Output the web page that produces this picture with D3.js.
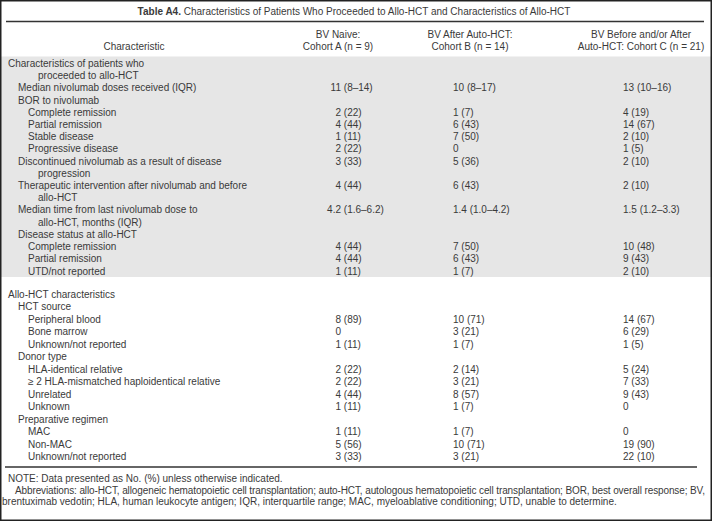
<!DOCTYPE html>
<html>
<head>
<meta charset="utf-8">
<script src="https://cdn.jsdelivr.net/npm/d3@7"></script>
<style>
  body { margin: 0; background: #fff; }
  svg text { font-family: "Liberation Sans", Arial, sans-serif; font-size: 10px; fill: #3a3a3a; }
</style>
</head>
<body>
<svg width="712" height="521"></svg>
<script>
// texts of the table
const titleBold = "Table A4.";
const titleText = " Characteristics of Patients Who Proceeded to Allo-HCT and Characteristics of Allo-HCT";
const colHeaders = [
  ["Characteristic"],
  ["BV Naive:", "Cohort A (n = 9)"],
  ["BV After Auto-HCT:", "Cohort B (n = 14)"],
  ["BV Before and/or After", "Auto-HCT: Cohort C (n = 21)"]
];

// section 1 (shaded): characteristics of patients who proceeded to allo-HCT
const patientLabels = [
  ["Characteristics of patients who", "proceeded to allo-HCT"],
  ["Median nivolumab doses received (IQR)"],
  ["BOR to nivolumab"],
  ["Complete remission"],
  ["Partial remission"],
  ["Stable disease"],
  ["Progressive disease"],
  ["Discontinued nivolumab as a result of disease", "progression"],
  ["Therapeutic intervention after nivolumab and before", "allo-HCT"],
  ["Median time from last nivolumab dose to", "allo-HCT, months (IQR)"],
  ["Disease status at allo-HCT"],
  ["Complete remission"],
  ["Partial remission"],
  ["UTD/not reported"]
];
const patientLevels = [0, 1, 1, 2, 2, 2, 2, 1, 1, 1, 1, 2, 2, 2];
const patientA = ["", "11 (8–14)", "", "2 (22)", "4 (44)", "1 (11)", "2 (22)", "3 (33)", "4 (44)", "4.2 (1.6–6.2)", "", "4 (44)", "4 (44)", "1 (11)"];
const patientB = ["", "10 (8–17)", "", "1 (7)", "6 (43)", "7 (50)", "0", "5 (36)", "6 (43)", "1.4 (1.0–4.2)", "", "7 (50)", "6 (43)", "1 (7)"];
const patientC = ["", "13 (10–16)", "", "4 (19)", "14 (67)", "2 (10)", "1 (5)", "2 (10)", "2 (10)", "1.5 (1.2–3.3)", "", "10 (48)", "9 (43)", "2 (10)"];

// section 2: allo-HCT characteristics
const hctLabels = [
  ["Allo-HCT characteristics"],
  ["HCT source"],
  ["Peripheral blood"],
  ["Bone marrow"],
  ["Unknown/not reported"],
  ["Donor type"],
  ["HLA-identical relative"],
  ["≥ 2 HLA-mismatched haploidentical relative"],
  ["Unrelated"],
  ["Unknown"],
  ["Preparative regimen"],
  ["MAC"],
  ["Non-MAC"],
  ["Unknown/not reported"]
];
const hctLevels = [0, 1, 2, 2, 2, 1, 2, 2, 2, 2, 1, 2, 2, 2];
const hctA = ["", "", "8 (89)", "0", "1 (11)", "", "2 (22)", "2 (22)", "4 (44)", "1 (11)", "", "1 (11)", "5 (56)", "3 (33)"];
const hctB = ["", "", "10 (71)", "3 (21)", "1 (7)", "", "2 (14)", "3 (21)", "8 (57)", "1 (7)", "", "1 (7)", "10 (71)", "3 (21)"];
const hctC = ["", "", "14 (67)", "6 (29)", "1 (5)", "", "5 (24)", "7 (33)", "9 (43)", "0", "", "0", "19 (90)", "22 (10)"];

const footNote = "NOTE: Data presented as No. (%) unless otherwise indicated.";
const footAbbr = [
  "Abbreviations: allo-HCT, allogeneic hematopoietic cell transplantation; auto-HCT, autologous hematopoietic cell transplantation; BOR, best overall response; BV,",
  "brentuximab vedotin; HLA, human leukocyte antigen; IQR, interquartile range; MAC, myeloablative conditioning; UTD, unable to determine."
];

const svg = d3.select("svg");
const W = 712, H = 521;

// label indent by level, continuation lines go deeper
const indent = d3.scaleLinear().domain([0, 2]).range([8, 28]);
const contX = 38;
// column positions
const colCenter = [134, 338, 470, 641];
const colA = 341;   // first number of cohort A ends here
const colB = 453, colC = 623;

// background + frame
svg.append("rect").attr("x", 0).attr("y", 0).attr("width", W).attr("height", H).attr("fill", "#fff");

// title
const title = svg.append("text").attr("x", 354).attr("y", 15).attr("text-anchor", "middle");
title.append("tspan").attr("font-weight", "bold").text(titleBold);
title.append("tspan").text(titleText);

svg.append("line").attr("x1", 6).attr("x2", 704).attr("y1", 21.5).attr("y2", 21.5)
  .attr("stroke", "#333").attr("stroke-width", 1.3);

// column headers
colHeaders.forEach((lines, i) => {
  const off = lines.length === 1 ? 1 : 0;
  lines.forEach((t, j) => {
    svg.append("text").attr("x", colCenter[i]).attr("y", 38 + (j + off) * 11.7)
      .attr("text-anchor", "middle").text(t);
  });
});

// shaded band for section 1
svg.append("rect").attr("x", 1).attr("y", 56.5).attr("width", W - 2).attr("height", 220.5).attr("fill", "#e6e6e6");

function drawSection(labels, levels, a, b, c, y) {
  let line = 0;
  labels.forEach((lines, i) => {
    const yy = y(line) + 3.5;
    lines.forEach((t, j) => {
      svg.append("text").attr("x", j === 0 ? indent(levels[i]) : contX)
        .attr("y", y(line + j) + 3.5).text(t);
    });
    if (a[i]) {
      const k = a[i].indexOf(" ");
      const head = k < 0 ? a[i] : a[i].slice(0, k);
      svg.append("text").attr("x", colA).attr("y", yy).attr("text-anchor", "end").text(head);
      if (k >= 0) svg.append("text").attr("x", colA + 2.8).attr("y", yy).text(a[i].slice(k + 1));
    }
    if (b[i]) svg.append("text").attr("x", colB).attr("y", yy).text(b[i]);
    if (c[i]) svg.append("text").attr("x", colC).attr("y", yy).text(c[i]);
    line += lines.length;
  });
}

const y1 = d3.scaleLinear().domain([0, 17]).range([63.5, 271]);
const y2 = d3.scaleLinear().domain([0, 13]).range([294.3, 456.7]);
drawSection(patientLabels, patientLevels, patientA, patientB, patientC, y1);
drawSection(hctLabels, hctLevels, hctA, hctB, hctC, y2);

svg.append("line").attr("x1", 5).attr("x2", 697).attr("y1", 467).attr("y2", 467)
  .attr("stroke", "#333").attr("stroke-width", 1.3);

// footnotes
svg.append("text").attr("x", 8).attr("y", 481.5).text(footNote);
svg.append("text").attr("x", 15).attr("y", 493.5).attr("textLength", 690)
  .attr("lengthAdjust", "spacing").text(footAbbr[0]);
svg.append("text").attr("x", 2).attr("y", 505).text(footAbbr[1]);

svg.append("rect").attr("x", 0.75).attr("y", 0.75).attr("width", W - 1.5).attr("height", H - 1.5)
  .attr("fill", "none").attr("stroke", "#222").attr("stroke-width", 1.5);
</script>
</body>
</html>
